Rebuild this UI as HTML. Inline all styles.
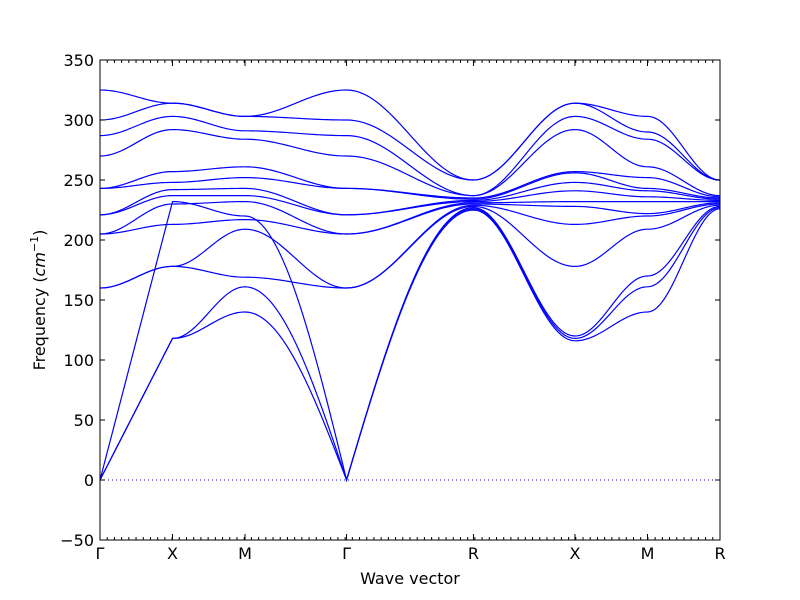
<!DOCTYPE html>
<html><head><meta charset="utf-8"><style>
body{margin:0;background:#fff;}
svg{display:block;font-family:"DejaVu Sans","Liberation Sans",sans-serif;}
</style></head><body>
<svg id="chart" width="800" height="600" viewBox="0 0 800 600">
<rect x="0" y="0" width="800" height="600" fill="#fff"/>
<g id="bands"></g>
<g id="axes"></g>
<text x="410" y="584" text-anchor="middle" font-size="16">Wave vector</text>
<text transform="translate(45,300) rotate(-90)" text-anchor="middle" font-size="16">Frequency (<tspan font-style="italic">cm</tspan><tspan font-size="11" dy="-7">−1</tspan><tspan dy="7">)</tspan></text>
</svg>
<script>
const kLabels = ["Γ","X","M","Γ","R","X","M","R"];
const kPos = [0, 1, 2, 3.4, 5.15, 6.55, 7.55, 8.55];
const yTicks = [-50,0,50,100,150,200,250,300,350];
const bandGamma = [0,0,0,160,160,205,205,221,221,243,243,270,287,300,325];
const bandX1 = [118,118,232,178,178,213,230,237,242,248,257,292,303,314,314];
const bandM1 = [140,161,220,169,209,217,232,237,243,252,261,284,291,303,303];
const bandGamma2 = [0,0,0,160,160,205,205,221,221,243,243,270,287,300,325];
const bandR1 = [225,226,227,228,229,230,231,232,233,234,235,237,237,250,250];
const bandX2 = [116,118,120,178,213,228,232,241,248,256,257,292,303,314,314];
const bandM2 = [140,161,170,209,220,222,232,236,241,243,252,261,284,290,303];
const bandR2 = [226,227,228,229,230,231,232,233,234,235,236,237,250,250,250];

const NS="http://www.w3.org/2000/svg";
const L=100,R=720,T=60,B=540;
const xScale=k=>L+(k-kPos[0])/(kPos[kPos.length-1]-kPos[0])*(R-L);
const yScale=v=>B-(v-(-50))/(400)*(B-T);
const pts=[bandGamma,bandX1,bandM1,bandGamma2,bandR1,bandX2,bandM2,bandR2];
const g=document.getElementById('bands');
for(let b=0;b<bandGamma.length;b++){
  let d="";
  for(let s=0;s<pts.length-1;s++){
    const a=pts[s][b], c=pts[s+1][b];
    const k0=kPos[s], k1=kPos[s+1];
    for(let i=0;i<=30;i++){
      const t=i/30;
      let e;
      if(a<1 && s===0) e=t;
      else if(a<1) e=Math.sin(t*Math.PI/2);
      else if(c<1) e=1-Math.cos(t*Math.PI/2);
      else e=(1-Math.cos(t*Math.PI))/2;
      const v=a+(c-a)*e;
      const x=xScale(k0+(k1-k0)*t);
      d+=(d===""?"M":"L")+x.toFixed(2)+","+yScale(v).toFixed(2);
    }
  }
  const p=document.createElementNS(NS,'path');
  p.setAttribute('d',d);p.setAttribute('fill','none');p.setAttribute('stroke','#0000ff');p.setAttribute('stroke-width','1.2');
  
  
  g.appendChild(p);
}
const ax=document.getElementById('axes');
function mk(tag,attrs,name,txt){const e=document.createElementNS(NS,tag);for(const k in attrs)e.setAttribute(k,attrs[k]);if(txt!==undefined)e.textContent=txt;
  
  
  ax.appendChild(e);return e;}
mk('line',{x1:L,x2:R,y1:yScale(0),y2:yScale(0),stroke:'#0000ff','stroke-width':1,'stroke-dasharray':'1,3'},'zero-line');
yTicks.forEach(v=>{const y=yScale(v);
  mk('line',{x1:L,x2:L+5,y1:y,y2:y,stroke:'#000'},'y-tick');
  mk('line',{x1:R-5,x2:R,y1:y,y2:y,stroke:'#000'},'y-tick-right');
  mk('text',{x:L-6,y:y+6,'text-anchor':'end','font-size':16},'y-tick-label',v<0?'−'+(-v):String(v));});
const nMinor=86;
for(let i=0;i<=nMinor;i++){const x=L+i*(R-L)/nMinor;
  mk('line',{x1:x,x2:x,y1:B,y2:B-3,stroke:'#000'},'x-minor-tick');
  mk('line',{x1:x,x2:x,y1:T,y2:T+3,stroke:'#000'},'x-minor-tick-top');}
kLabels.forEach((l,i)=>{const x=xScale(kPos[i]);
  mk('line',{x1:x,x2:x,y1:B,y2:B-6,stroke:'#000'},'x-tick');
  mk('line',{x1:x,x2:x,y1:T,y2:T+6,stroke:'#000'},'x-tick-top');
  mk('text',{x:x,y:B+19,'text-anchor':'middle','font-size':16},'x-tick-label',l);});
mk('rect',{x:L,y:T,width:R-L,height:B-T,fill:'none',stroke:'#000','stroke-width':1},'plot-frame');
</script>
</body></html>
